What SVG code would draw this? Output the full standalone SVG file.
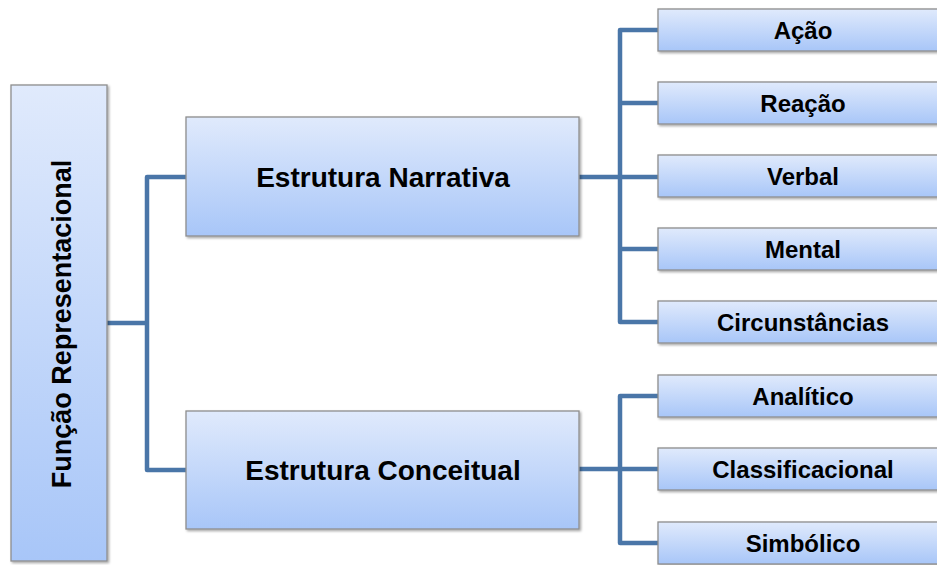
<svg xmlns="http://www.w3.org/2000/svg" width="937" height="565" viewBox="0 0 937 565">
<defs>
<linearGradient id="g" x1="0" y1="0" x2="0" y2="1">
<stop offset="0" stop-color="#e0eafc"/>
<stop offset="1" stop-color="#a8c6f8"/>
</linearGradient>
<filter id="sh" x="-10%" y="-10%" width="130%" height="130%">
<feDropShadow dx="1.5" dy="1.5" stdDeviation="1" flood-color="#000" flood-opacity="0.35"/>
</filter>
</defs>
<style>
.box{fill:url(#g);stroke:#8e8e8e;stroke-width:1.3;filter:url(#sh)}
.t{font-family:"Liberation Sans",Arial,sans-serif;font-weight:bold;fill:#000;text-anchor:middle;dominant-baseline:central}
.big{font-size:28px}
.side{font-size:27px}
.sm{font-size:24px}
.c{fill:none;stroke:#4a76a8;stroke-width:4.5;stroke-linejoin:round;stroke-linecap:butt}
</style>
<g id="connectors">
<path class="c" d="M107 323 H147 M186 177 H147 V470 H186"/>
<path class="c" d="M579 177 H620 M658 30 H620 V322 H658 M620 103 H658 M620 177 H658 M620 249 H658"/>
<path class="c" d="M579 469 H658 M658 396 H620 V543 H658"/>
</g>
<g id="funcao">
<rect class="box" x="11" y="85" width="96" height="476"/>
<text class="t side" transform="translate(62 324) rotate(-90)">Função Representacional</text>
</g>
<g id="narrativa">
<rect class="box" x="186" y="117" width="393" height="119"/>
<text class="t big" x="383" y="177">Estrutura Narrativa</text>
</g>
<g id="conceitual">
<rect class="box" x="186" y="411" width="393" height="118"/>
<text class="t big" x="383" y="470">Estrutura Conceitual</text>
</g>
<g id="acao">
<rect class="box" x="658" y="9" width="285" height="42"/>
<text class="t sm" x="803" y="30">Ação</text>
</g>
<g id="reacao">
<rect class="box" x="658" y="82" width="285" height="42"/>
<text class="t sm" x="803" y="103">Reação</text>
</g>
<g id="verbal">
<rect class="box" x="658" y="155" width="285" height="42"/>
<text class="t sm" x="803" y="176">Verbal</text>
</g>
<g id="mental">
<rect class="box" x="658" y="228" width="285" height="42"/>
<text class="t sm" x="803" y="249">Mental</text>
</g>
<g id="circunstancias">
<rect class="box" x="658" y="301" width="285" height="42"/>
<text class="t sm" x="803" y="322">Circunstâncias</text>
</g>
<g id="analitico">
<rect class="box" x="658" y="375" width="285" height="42"/>
<text class="t sm" x="803" y="396">Analítico</text>
</g>
<g id="classificacional">
<rect class="box" x="658" y="448" width="285" height="42"/>
<text class="t sm" x="803" y="469">Classificacional</text>
</g>
<g id="simbolico">
<rect class="box" x="658" y="522" width="285" height="42"/>
<text class="t sm" x="803" y="543">Simbólico</text>
</g>
</svg>
